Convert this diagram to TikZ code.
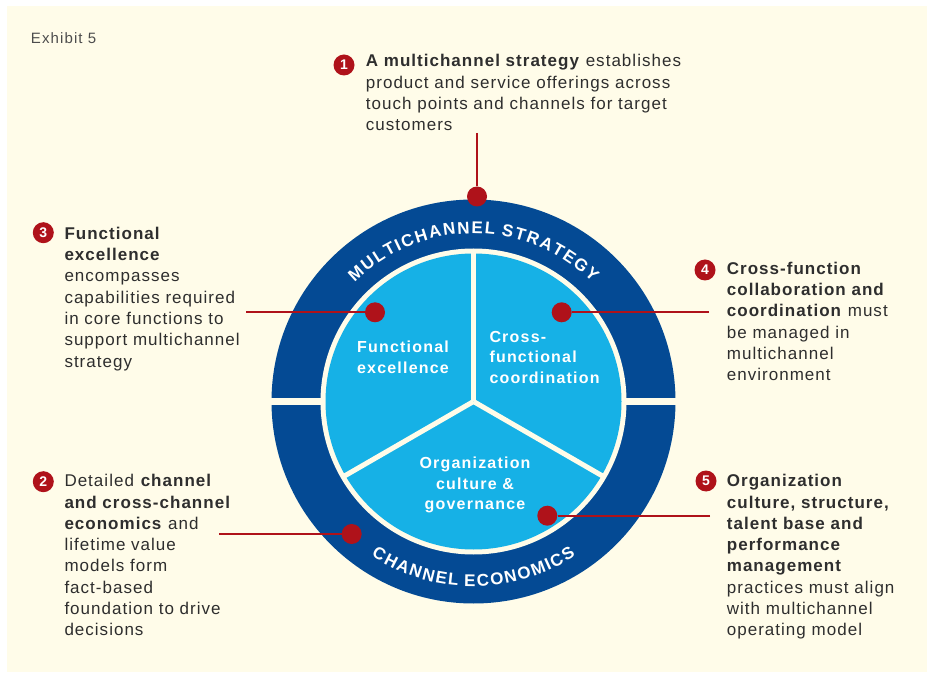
\documentclass[tikz,border=0pt]{standalone}
\usepackage{fontspec}
\setmainfont{Liberation Sans}[LetterSpace=6]
\newfontfamily\innerfont{Liberation Sans}[LetterSpace=7.5]
\newfontfamily\ringfont{Liberation Sans}
\usetikzlibrary{decorations.text}
\definecolor{cream}{HTML}{FFFCE9}
\definecolor{darkblue}{HTML}{044A94}
\definecolor{lightblue}{HTML}{16B1E6}
\definecolor{mred}{HTML}{AF121A}
\definecolor{txt}{HTML}{2E2E2E}
\begin{document}
\begin{tikzpicture}[x=1pt,y=1pt,
  body/.style={font=\fontsize{17}{21.3}\selectfont, text=txt, align=left, inner sep=0pt, anchor=base west},
  innerlbl/.style={font=\innerfont\bfseries\fontsize{16}{20.7}\selectfont, text=white, inner sep=0pt, anchor=base},
  badge/.style={circle, fill=mred, minimum size=21pt, inner sep=0pt, text=white, font=\bfseries\fontsize{14}{14}\selectfont},
  dot/.style={circle, fill=mred, minimum size=20pt, inner sep=0pt},
  conn/.style={draw=mred, line width=2pt},
  divider/.style={draw=cream, line width=5pt}]
\useasboundingbox (0,0) rectangle (927,673);
\fill[white] (0,0) rectangle (927,673);
\fill[cream] (7,1) rectangle (926.5,667);
% ring
\coordinate (C) at (473.5,271.5);
\fill[darkblue] (C) circle[radius=202];
\fill[cream] (268,268) rectangle (679,275);
\fill[cream] (C) circle[radius=153];
\fill[lightblue] (C) circle[radius=148];
\draw[divider] (C) -- ++(90:150);
\draw[divider] (C) -- ++(210:150);
\draw[divider] (C) -- ++(330:150);
% ring texts
\path[decorate, decoration={text along path, text color=white, text align=center,
  text={|\ringfont\bfseries\fontsize{17}{17}\selectfont|{M\kern1.65pt}{U\kern1.65pt}{L\kern1.65pt}{T\kern1.65pt}{I\kern1.65pt}{C\kern1.65pt}{H\kern1.65pt}{A\kern1.65pt}{N\kern1.65pt}{N\kern1.65pt}{E\kern1.65pt}{L\kern1.65pt} {S\kern1.65pt}{T\kern1.65pt}{R\kern1.65pt}{A\kern1.65pt}{T\kern1.65pt}{E\kern1.65pt}{G\kern1.65pt}{Y}}}]
  (305.5,271.5) arc[start angle=180, end angle=0, radius=168];
\path[decorate, decoration={text along path, text color=white, text align=center,
  text={|\ringfont\bfseries\fontsize{17}{17}\selectfont|{C\kern1.6pt}{H\kern1.6pt}{A\kern1.6pt}{N\kern1.6pt}{N\kern1.6pt}{E\kern1.6pt}{L\kern1.6pt} {E\kern1.6pt}{C\kern1.6pt}{O\kern1.6pt}{N\kern1.6pt}{O\kern1.6pt}{M\kern1.6pt}{I\kern1.6pt}{C\kern1.6pt}{S}}}]
  (288.5,271.5) arc[start angle=180, end angle=360, radius=185];
% inner labels (anchor = baseline of last line)
\node[innerlbl, align=center] (fe) at (403,299.3) {Functional\\excellence};
\node[innerlbl, align=left, anchor=base west] (cf) at (489.3,289.5) {Cross-\\functional\\coordination};
\node[innerlbl, align=center] (og) at (475,163.3) {Organization\\culture \&\\governance};
% exhibit
\node[font=\innerfont\fontsize{15}{15}\selectfont, text=txt!85, anchor=base west, inner sep=0pt] (ex) at (30.7,629.7) {Exhibit 5};
% red dots and connectors
\coordinate (l1) at (477,540);
\coordinate (l3) at (246,360.7);
\coordinate (l4) at (709,360.7);
\coordinate (l5) at (710,157.3);
\coordinate (l2) at (219,139);
\node[dot] (d1) at (477,476.5) {};
\node[dot] (d3) at (375,360.7) {};
\node[dot] (d4) at (561.7,360.7) {};
\node[dot] (d5) at (547.3,157.3) {};
\node[dot] (d2) at (351.7,139) {};
\draw[conn] (l1) -- (d1);
\draw[conn] (l3) -- (d3);
\draw[conn] (l4) -- (d4);
\draw[conn] (l5) -- (d5);
\draw[conn] (l2) -- (d2);
% text blocks (anchor = baseline of last line)
\node[badge] (b1) at (344,608) {1};
\node[body] (t1) at (365.7,542.1) {\textbf{A multichannel strategy} establishes\\product and service offerings across\\touch points and channels for target\\customers};
\node[badge] (b3) at (43.3,440.3) {3};
\node[body] (t3) at (64.3,305.9) {\textbf{Functional}\\\textbf{excellence}\\encompasses\\capabilities required\\in core functions to\\support multichannel\\strategy};
\node[badge] (b2) at (43.3,191.3) {2};
\node[body] (t2) at (64.3,37.2) {Detailed \textbf{channel}\\\textbf{and cross-channel}\\\textbf{economics} and\\lifetime value\\models form\\fact-based\\foundation to drive\\decisions};
\node[badge] (b4) at (705,403) {4};
\node[body] (t4) at (726.7,292.2) {\textbf{Cross-function}\\\textbf{collaboration and}\\\textbf{coordination} must\\be managed in\\multichannel\\environment};
\node[badge] (b5) at (706,192) {5};
\node[body] (t5) at (726.7,37.2) {\textbf{Organization}\\\textbf{culture, structure,}\\\textbf{talent base and}\\\textbf{performance}\\\textbf{management}\\practices must align\\with multichannel\\operating model};
\end{tikzpicture}
\end{document}
